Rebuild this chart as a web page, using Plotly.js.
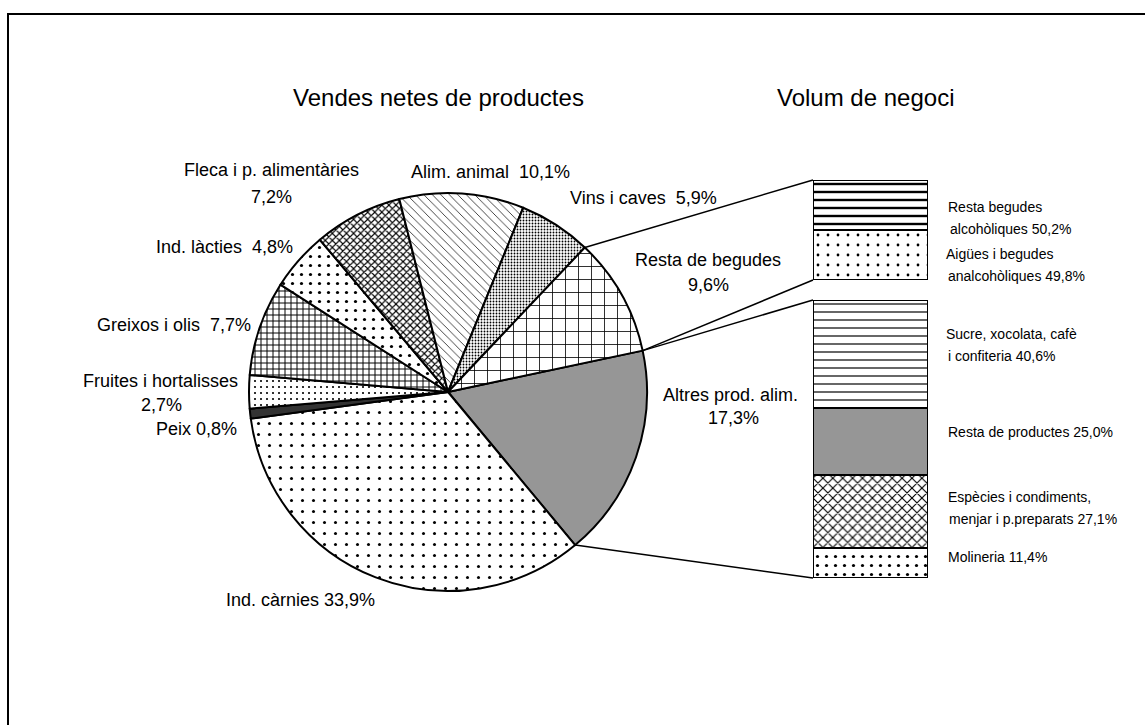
<!DOCTYPE html>
<html>
<head>
<meta charset="utf-8">
<script src="https://cdn.plot.ly/plotly-3.0.1.min.js"></script>
<style>
  body { margin: 0; background: #fff; }
  #plot { width: 1145px; height: 725px; }
</style>
</head>
<body>
<div id="plot"></div>
<script>
// --- data ---
const pieLabels = ['Altres prod. alim.', 'Ind. càrnies', 'Peix', 'Fruites i hortalisses', 'Greixos i olis',
                   'Ind. làcties', 'Fleca i p. alimentàries', 'Alim. animal', 'Vins i caves', 'Resta de begudes'];
const pieValues = [17.3, 33.9, 0.8, 2.7, 7.7, 4.8, 7.2, 10.1, 5.9, 9.6];

// breakdown of "Resta de begudes" (bottom to top)
const drinkLabels = ['Aigües i begudes analcohòliques', 'Resta begudes alcohòliques'];
const drinkValues = [49.8, 50.2];

// breakdown of "Altres prod. alim." (bottom to top)
const otherLabels = ['Molineria', 'Espècies i condiments, menjar i p.preparats', 'Resta de productes',
                     'Sucre, xocolata, cafè i confiteria'];
const otherValues = [11.4, 27.1, 25.0, 40.6];

// --- styles ---
const pieColors   = ['#969696', '#fff', '#333333', '#fff', '#fff', '#fff', '#fff', '#fff', '#fff', '#fff'];
const pieShapes   = ['', '.', '', '.', '+', '.', 'x', '\\', '.', '+'];
const pieSizes    = [8, 11, 8, 6, 6, 9, 5, 6, 3, 13];
const pieSolidity = [0.3, 0.06, 0.3, 0.1, 0.3, 0.1, 0.4, 0.12, 0.3, 0.12];

const drinkColors = ['#fff', '#fff'];
const drinkShapes = ['.', '-'];
const drinkSizes = [10, 8];
const drinkSolidity = [0.06, 0.3];

const otherColors = ['#fff', '#fff', '#969696', '#fff'];
const otherShapes = ['.', 'x', '', '-'];
const otherSizes = [9, 7, 8, 8];
const otherSolidity = [0.1, 0.3, 0.3, 0.15];

// --- geometry (pixels) ---
const W = 1145, H = 725;
const px = x => x / W;
const py = y => 1 - y / H;
const PIE = {cx: 448, cy: 392, r: 199, rotation: 78};
const BOX_X = [813, 928];
const DRINK_Y = [180, 280];
const OTHER_Y = [300, 578];
const FONT = 'Arial, "Liberation Sans", sans-serif';

const pie = {
    type: 'pie',
    labels: pieLabels,
    values: pieValues,
    sort: false,
    direction: 'clockwise',
    rotation: PIE.rotation,
    textinfo: 'none',
    hoverinfo: 'label+percent',
    domain: {
        x: [px(PIE.cx - PIE.r), px(PIE.cx + PIE.r)],
        y: [py(PIE.cy + PIE.r), py(PIE.cy - PIE.r)]
    },
    marker: {
        colors: pieColors,
        line: {color: '#000', width: 2},
        pattern: {
            shape: pieShapes,
            size: pieSizes,
            solidity: pieSolidity,
            fgcolor: '#000',
            bgcolor: pieColors,
            fillmode: 'replace'
        }
    }
};

function barTraces(labels, values, colors, shapes, sizes, solidity, yaxis) {
    return labels.map((lab, i) => ({
        type: 'bar',
        name: lab,
        x: [0],
        y: [values[i]],
        width: 1,
        xaxis: 'x',
        yaxis: yaxis,
        hoverinfo: 'name+y',
        marker: {
            color: colors[i],
            line: {color: '#000', width: 2},
            pattern: {
                shape: shapes[i],
                size: sizes[i],
                solidity: solidity[i],
                fgcolor: '#000',
                bgcolor: colors[i],
                fillmode: 'replace'
            }
        }
    }));
}

const traces = [pie]
    .concat(barTraces(drinkLabels, drinkValues, drinkColors, drinkShapes, drinkSizes, drinkSolidity, 'y'))
    .concat(barTraces(otherLabels, otherValues, otherColors, otherShapes, otherSizes, otherSolidity, 'y2'));

// connector lines from the pie slices to the boxes
function piePoint(deg) {
    let a = deg * Math.PI / 180;
    return [PIE.cx + PIE.r * Math.sin(a), PIE.cy - PIE.r * Math.cos(a)];
}
const total = pieValues.reduce((s, v) => s + v, 0);
const altStart = PIE.rotation;
const altEnd = altStart + pieValues[0] / total * 360;
const begStart = altStart - pieValues[pieValues.length - 1] / total * 360;

function seg(p, x, y) {
    return {type: 'line', xref: 'paper', yref: 'paper',
            x0: px(p[0]), y0: py(p[1]), x1: px(x), y1: py(y),
            line: {color: '#000', width: 1.5}};
}
const shapes = [
    seg(piePoint(begStart), BOX_X[0], DRINK_Y[0]),
    seg(piePoint(altStart), BOX_X[0], DRINK_Y[1]),
    seg(piePoint(altStart), BOX_X[0], OTHER_Y[0]),
    seg(piePoint(altEnd), BOX_X[0], OTHER_Y[1]),
    {type: 'rect', xref: 'paper', yref: 'paper', x0: px(8), y0: py(14), x1: px(1170), y1: py(760),
     line: {color: '#000', width: 2}}
];

// text labels: [text, x, y, size, anchor]
const texts = [
    ['Vendes netes de productes', 438, 97, 24, 'center'],
    ['Volum de negoci', 865, 97, 24, 'center'],
    ['Fleca i p. alimentàries', 271, 170, 18, 'center'],
    ['7,2%', 271, 197, 18, 'center'],
    ['Alim. animal  10,1%', 490, 172, 18, 'center'],
    ['Vins i caves  5,9%', 643, 198, 18, 'center'],
    ['Ind. làcties  4,8%', 225, 247, 18, 'center'],
    ['Greixos i olis  7,7%', 174, 325, 18, 'center'],
    ['Fruites i hortalisses', 160, 381, 18, 'center'],
    ['2,7%', 161, 405, 18, 'center'],
    ['Peix 0,8%', 196, 429, 18, 'center'],
    ['Ind. càrnies 33,9%', 300, 600, 18, 'center'],
    ['Resta de begudes', 708, 260, 18, 'center'],
    ['9,6%', 708, 285, 18, 'center'],
    ['Altres prod. alim.', 730, 395, 18, 'center'],
    ['17,3%', 733, 418, 18, 'center'],
    ['Resta begudes', 946, 207, 14, 'left'],
    ['alcohòliques 50,2%', 948, 229, 14, 'left'],
    ['Aigües i begudes', 944, 254, 14, 'left'],
    ['analcohòliques 49,8%', 946, 276, 14, 'left'],
    ['Sucre, xocolata, cafè', 944, 334, 14, 'left'],
    ['i confiteria 40,6%', 946, 356, 14, 'left'],
    ['Resta de productes 25,0%', 946, 432, 14, 'left'],
    ['Espècies i condiments,', 946, 497, 14, 'left'],
    ['menjar i p.preparats 27,1%', 947, 519, 14, 'left'],
    ['Molineria 11,4%', 946, 557, 14, 'left']
];
const annotations = texts.map(t => ({
    text: t[0], xref: 'paper', yref: 'paper', x: px(t[1]), y: py(t[2]),
    xanchor: t[4], yanchor: 'middle', showarrow: false,
    font: {family: FONT, size: t[3], color: '#000'}
}));

const hidden = {visible: false, fixedrange: true};
const layout = {
    width: W,
    height: H,
    margin: {l: 0, r: 0, t: 0, b: 0},
    paper_bgcolor: '#fff',
    plot_bgcolor: 'rgba(0,0,0,0)',
    showlegend: false,
    barmode: 'stack',
    bargap: 0,
    font: {family: FONT, color: '#000'},
    xaxis: Object.assign({domain: [px(BOX_X[0]), px(BOX_X[1])], range: [-0.5, 0.5]}, hidden),
    yaxis: Object.assign({domain: [py(DRINK_Y[1]), py(DRINK_Y[0])], range: [0, drinkValues.reduce((s, v) => s + v, 0)], anchor: 'x'}, hidden),
    yaxis2: Object.assign({domain: [py(OTHER_Y[1]), py(OTHER_Y[0])], range: [0, otherValues.reduce((s, v) => s + v, 0)], anchor: 'x'}, hidden),
    shapes: shapes,
    annotations: annotations
};

Plotly.newPlot(document.getElementById('plot'), traces, layout, {displayModeBar: false, staticPlot: true});
</script>
</body>
</html>
